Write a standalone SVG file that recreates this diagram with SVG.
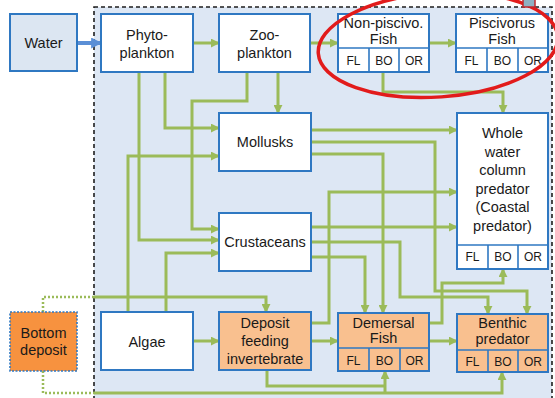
<svg xmlns="http://www.w3.org/2000/svg" width="555" height="398" viewBox="0 0 555 398">
  <style>
    .box { fill: #ffffff; stroke: #2f78c2; stroke-width: 2; }
    .org { fill: #f9c08f; stroke: #2f78c2; stroke-width: 2; }
    .div { stroke: #2f78c2; stroke-width: 1.6; fill: none; }
    .lbl { font-family: "Liberation Sans", Arial, sans-serif; font-size: 14.5px; fill: #1a1a1a; text-anchor: middle; }
    .cell { font-family: "Liberation Sans", Arial, sans-serif; font-size: 12px; fill: #1a1a1a; text-anchor: middle; }
    .flow { fill: none; stroke: #9bbb59; stroke-width: 3; }
    .arr { marker-end: url(#ah); }
    .dot { fill: none; stroke: #9bbb59; stroke-width: 2.5; stroke-dasharray: 2 2; }
  </style>
  <defs>
    <marker id="ah" viewBox="0 0 10 10" refX="9" refY="5" markerWidth="9" markerHeight="9" markerUnits="userSpaceOnUse" orient="auto">
      <path d="M0,0 L10,5 L0,10 z" fill="#9bbb59"/>
    </marker>
    <marker id="ahb" viewBox="0 0 10 10" refX="9" refY="5" markerWidth="11" markerHeight="11" markerUnits="userSpaceOnUse" orient="auto">
      <path d="M0,0 L10,5 L0,10 z" fill="#5b8fd6"/>
    </marker>
  </defs>

  <rect x="0" y="0" width="555" height="398" fill="#ffffff"/>
  <!-- system boundary -->
  <rect x="94" y="7" width="458" height="400" fill="#dde7f4" stroke="#1e1e1e" stroke-width="1.6" stroke-dasharray="4 3"/>

  <!-- connectors -->
  <g id="connectors">
    <path d="M77,43 H101" fill="none" stroke="#5b8fd6" stroke-width="4" marker-end="url(#ahb)"/>
    <path class="flow arr" d="M193,43 H219"/>
    <path class="flow arr" d="M310,43 H338"/>
    <path class="flow arr" d="M429,43 H456"/>
    <path class="flow arr" d="M383,72 V92 H503 V113"/>
    <path class="flow arr" d="M278,72 V113"/>
    <path class="flow arr" d="M247,72 V101 H192 V229 H219"/>
    <path class="flow arr" d="M165,72 V128 H219"/>
    <path class="flow arr" d="M139,72 V240 H219"/>
    <path class="flow arr" d="M128,312 V156 H219"/>
    <path class="flow arr" d="M166,312 V253 H219"/>
    <path class="flow arr" d="M193,341 H219"/>
    <path class="dot" d="M43,312 V297 H94"/>
    <path class="flow arr" d="M94,297 H266 V312"/>
    <path class="dot" d="M43,371 V393 H94"/>
    <path class="flow arr" d="M94,393 H502 V372"/>
    <path class="flow" d="M267,370 V386 H385"/>
    <path class="flow arr" d="M385,393 V371"/>
    <path class="flow arr" d="M311,341 H338"/>
    <path class="flow arr" d="M429,341 H457"/>
    <path class="flow arr" d="M311,323 H329 V192 H457"/>
    <path class="flow arr" d="M311,130 H457"/>
    <path class="flow arr" d="M311,142 H435 V291 H527 V314"/>
    <path class="flow arr" d="M311,154 H383 V313"/>
    <path class="flow arr" d="M311,227 H457"/>
    <path class="flow arr" d="M311,242 H400 V297 H488 V314"/>
    <path class="flow arr" d="M311,257 H365 V313"/>
    <path class="flow arr" d="M429,323 H442 V283 H503 V269"/>
  </g>

  <g id="water">
    <rect x="10" y="14" width="67" height="57" fill="#dce6f2" stroke="#2f78c2" stroke-width="2"/>
    <text class="lbl" x="43.5" y="48">Water</text>
  </g>
  <g id="phytoplankton">
    <rect class="box" x="101" y="14" width="92" height="58"/>
    <text class="lbl" x="147" y="40">Phyto-</text>
    <text class="lbl" x="147" y="58">plankton</text>
  </g>
  <g id="zooplankton">
    <rect class="box" x="219" y="14" width="91" height="58"/>
    <text class="lbl" x="264.5" y="40">Zoo-</text>
    <text class="lbl" x="264.5" y="58">plankton</text>
  </g>
  <g id="non-piscivorous-fish">
    <rect class="box" x="338" y="14" width="91" height="58"/>
    <path class="div" d="M338,48 H429 M369,48 V72 M399,48 V72"/>
    <text class="lbl" x="383.5" y="28">Non-piscivo.</text>
    <text class="lbl" x="383.5" y="44">Fish</text>
    <text class="cell" x="353.5" y="65">FL</text>
    <text class="cell" x="384" y="65">BO</text>
    <text class="cell" x="414" y="65">OR</text>
  </g>
  <g id="piscivorous-fish">
    <rect class="box" x="456" y="14" width="92" height="58"/>
    <path class="div" d="M456,48 H548 M487,48 V72 M518,48 V72"/>
    <text class="lbl" x="502" y="28">Piscivorus</text>
    <text class="lbl" x="502" y="44">Fish</text>
    <text class="cell" x="471.5" y="65">FL</text>
    <text class="cell" x="502.5" y="65">BO</text>
    <text class="cell" x="533" y="65">OR</text>
  </g>
  <g id="mollusks">
    <rect class="box" x="219" y="113" width="92" height="58"/>
    <text class="lbl" x="265" y="147">Mollusks</text>
  </g>
  <g id="crustaceans">
    <rect class="box" x="219" y="213" width="92" height="58"/>
    <text class="lbl" x="265" y="247">Crustaceans</text>
  </g>
  <g id="whole-water-column-predator">
    <rect class="box" x="457" y="113" width="91" height="156"/>
    <path class="div" d="M457,245 H548 M488,245 V269 M518,245 V269"/>
    <text class="lbl" x="502.5" y="138">Whole</text>
    <text class="lbl" x="502.5" y="157">water</text>
    <text class="lbl" x="502.5" y="175">column</text>
    <text class="lbl" x="502.5" y="194">predator</text>
    <text class="lbl" x="502.5" y="212">(Coastal</text>
    <text class="lbl" x="502.5" y="231">predator)</text>
    <text class="cell" x="472.5" y="261">FL</text>
    <text class="cell" x="503" y="261">BO</text>
    <text class="cell" x="533" y="261">OR</text>
  </g>
  <g id="bottom-deposit">
    <rect x="10" y="312" width="67" height="59" fill="#f7923f" stroke="#2f78c2" stroke-width="1.6" stroke-dasharray="2 1.5"/>
    <text class="lbl" x="43.5" y="338">Bottom</text>
    <text class="lbl" x="43.5" y="355">deposit</text>
  </g>
  <g id="algae">
    <rect class="box" x="101" y="312" width="92" height="58"/>
    <text class="lbl" x="147" y="347">Algae</text>
  </g>
  <g id="deposit-feeding-invertebrate">
    <rect class="org" x="219" y="312" width="92" height="58"/>
    <text class="lbl" x="265" y="328">Deposit</text>
    <text class="lbl" x="265" y="346">feeding</text>
    <text class="lbl" x="265" y="364">invertebrate</text>
  </g>
  <g id="demersal-fish">
    <rect class="org" x="338" y="313" width="91" height="58"/>
    <path class="div" d="M338,348 H429 M369,348 V371 M400,348 V371"/>
    <text class="lbl" x="383.5" y="328">Demersal</text>
    <text class="lbl" x="383.5" y="343">Fish</text>
    <text class="cell" x="353.5" y="365">FL</text>
    <text class="cell" x="384.5" y="365">BO</text>
    <text class="cell" x="414.5" y="365">OR</text>
  </g>
  <g id="benthic-predator">
    <rect class="org" x="457" y="314" width="91" height="58"/>
    <path class="div" d="M457,350 H548 M488,350 V372 M518,350 V372"/>
    <text class="lbl" x="502.5" y="328">Benthic</text>
    <text class="lbl" x="502.5" y="344">predator</text>
    <text class="cell" x="472.5" y="366">FL</text>
    <text class="cell" x="503" y="366">BO</text>
    <text class="cell" x="533" y="366">OR</text>
  </g>

  <!-- highlight around the fish groups -->
  <g id="highlight">
    <ellipse cx="438" cy="45" rx="120" ry="52" transform="rotate(-4 438 45)" fill="none" stroke="#e21b1b" stroke-width="3.5"/>
    <rect x="523" y="-2" width="12" height="9" fill="#8fb0c2" stroke="#c0272d" stroke-width="1.5"/>
  </g>
</svg>
